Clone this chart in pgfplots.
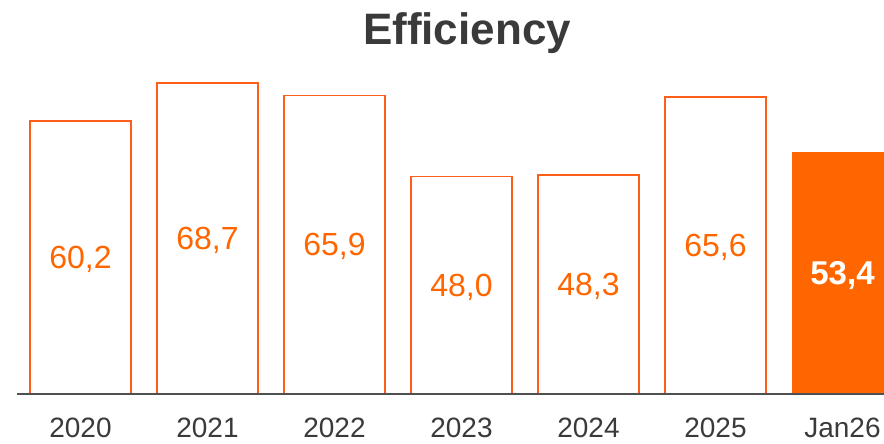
\documentclass[border=0pt]{standalone}
\usepackage{fontspec}
\setmainfont{Liberation Sans}
\usepackage{pgfplots}
\pgfplotsset{compat=1.18}
\definecolor{org}{HTML}{FF6600}
\definecolor{orgl}{HTML}{FF5E1A}
\definecolor{txt}{HTML}{3A3A3A}
\definecolor{axl}{HTML}{505050}
\begin{document}
\begin{tikzpicture}[x=1pt,y=1pt]
\begin{scope}
\clip (0,0) rectangle (884,444);
\begin{axis}[
  at={(17pt,50pt)}, anchor=south west,
  scale only axis, width=889pt, height=362.4pt,
  xmin=-0.5, xmax=6.5, ymin=0, ymax=80,
  axis x line=bottom, axis y line=none,
  x axis line style={-, draw=axl, line width=1.3pt},
  xtick={0,1,2,3,4,5,6},
  xticklabels={2020,2021,2022,2023,2024,2025,Jan26},
  major tick length=0pt,
  xticklabel style={anchor=base, yshift=-44pt, font=\fontsize{28}{30}\selectfont, text=txt},
  ybar, bar width=101pt, bar shift=0pt,
  axis on top,
  /pgf/number format/.cd, assume math mode=true, use comma, fixed, fixed zerofill, precision=1,
  /pgfplots/.cd,
  nodes near coords,
  visualization depends on={rawy \as \rawy},
  every node near coord/.append style={anchor=center, inner sep=0pt, text depth=0pt,
     shift={(axis direction cs:0,-\rawy/2)}},
]
\addplot[draw=orgl, fill=white, line width=1.6pt,
  every node near coord/.append style={text=org, font=\fontsize{32}{34}\selectfont}]
  coordinates {(0,60.2) (1,68.7) (2,65.9) (3,48.0) (4,48.3) (5,65.6)};
\addplot[draw=none, fill=org,
  every node near coord/.append style={text=white, font=\fontsize{33}{35}\selectfont\bfseries}]
  coordinates {(6,53.4)};
\end{axis}
\end{scope}
\node[anchor=base, font=\fontsize{44}{48}\selectfont\bfseries, text=txt] at (467,399) {Efficiency};
\pgfresetboundingbox
\useasboundingbox (0,0) rectangle (884,444);
\end{tikzpicture}
\end{document}
